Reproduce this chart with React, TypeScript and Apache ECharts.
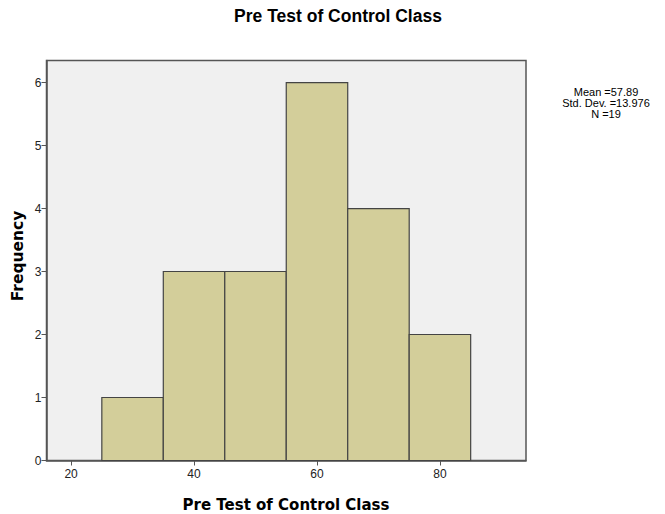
import React, { useEffect, useRef } from "react";
import * as echarts from "echarts";

const binStarts = [25, 35, 45, 55, 65, 75];
const binEnds = [35, 45, 55, 65, 75, 85];
const frequencies = [1, 3, 3, 6, 4, 2];
const xTicks = [20, 40, 60, 80];
const statsLines = ["Mean =57.89", "Std. Dev. =13.976", "N =19"];
const titleText = "Pre Test of Control Class";
const xName = "Pre Test of Control Class";
const yName = "Frequency";

const FONT = "Liberation Sans, Arial, sans-serif";
const BOLD_FONT = "DejaVu Sans, Verdana, sans-serif";

export default function App() {
  const ref = useRef<HTMLDivElement>(null);
  useEffect(() => {
    document.body.style.margin = "0";
    const chart = echarts.init(ref.current!, null, { renderer: "svg" });
    const data = binStarts.map((s, i) => [s, binEnds[i], frequencies[i]]);
    chart.setOption({
      animation: false,
      textStyle: { fontFamily: FONT },
      grid: {
        left: 46.5,
        top: 60.5,
        right: 139,
        bottom: 53.5,
        show: true,
        backgroundColor: "#f0f0f0",
        borderColor: "#555",
        borderWidth: 1.5,
      },
      xAxis: {
        type: "value",
        min: 16,
        max: 94,
        axisLine: { show: true, lineStyle: { color: "#555", width: 1.5 } },
        axisTick: {
          show: true,
          customValues: xTicks,
          length: 5,
          lineStyle: { color: "#555" },
        },
        axisLabel: {
          customValues: xTicks,
          fontSize: 12,
          color: "#222",
          margin: 7,
        },
        splitLine: { show: false },
      },
      yAxis: {
        type: "value",
        min: 0,
        max: 6.35,
        interval: 1,
        axisLine: { show: true, lineStyle: { color: "#555", width: 1.5 } },
        axisTick: { show: true, length: 5, lineStyle: { color: "#555" } },
        axisLabel: {
          fontSize: 12,
          color: "#222",
          margin: 5,
          showMaxLabel: false,
          formatter: (v: number) => (Number.isInteger(v) ? String(v) : ""),
        },
        splitLine: { show: false },
      },
      series: [
        {
          type: "custom",
          data,
          encode: { x: [0, 1], y: 2 },
          renderItem: (params: any, api: any) => {
            const p0 = api.coord([api.value(0), api.value(2)]);
            const p1 = api.coord([api.value(1), 0]);
            return {
              type: "rect",
              shape: { x: p0[0], y: p0[1], width: p1[0] - p0[0], height: p1[1] - p0[1] },
              style: { fill: "#d3ce9a", stroke: "#444", lineWidth: 1.2 },
            };
          },
        },
      ],
      graphic: [
        {
          type: "text",
          x: 338,
          y: 16,
          style: {
            text: titleText,
            align: "center",
            verticalAlign: "middle",
            fontSize: 17.5,
            fontWeight: "bold",
            fill: "#000",
            fontFamily: FONT,
          },
        },
        {
          type: "text",
          x: 286,
          y: 505,
          style: {
            text: xName,
            align: "center",
            verticalAlign: "middle",
            fontSize: 15,
            fontWeight: "bold",
            fill: "#000",
            fontFamily: BOLD_FONT,
          },
        },
        {
          type: "text",
          x: 17.5,
          y: 256,
          rotation: Math.PI / 2,
          style: {
            text: yName,
            align: "center",
            verticalAlign: "middle",
            fontSize: 15.5,
            fontWeight: "bold",
            fill: "#000",
            fontFamily: BOLD_FONT,
          },
        },
        {
          type: "text",
          x: 606,
          y: 103,
          style: {
            text: statsLines.join("\n"),
            align: "center",
            verticalAlign: "middle",
            fontSize: 11,
            lineHeight: 11,
            fill: "#000",
            fontFamily: FONT,
          },
        },
      ],
    });
    return () => chart.dispose();
  }, []);
  return <div ref={ref} style={{ width: 665, height: 514 }} />;
}
